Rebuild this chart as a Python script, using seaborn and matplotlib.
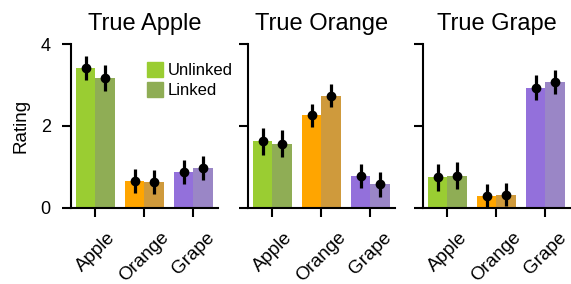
import pandas as pd
import seaborn as sns
import matplotlib.pyplot as plt
from matplotlib.patches import Patch

truths = ["Apple", "Orange", "Grape"]
fruits = ["Apple", "Orange", "Grape"]
links = ["Unlinked", "Linked"]

# mean rating per true fruit (rows) and rated fruit (columns)
unlinked = [[3.42, 0.66, 0.87], [1.63, 2.26, 0.78], [0.74, 0.29, 2.94]]
linked = [[3.18, 0.63, 0.97], [1.57, 2.74, 0.57], [0.78, 0.32, 3.08]]
unlinked_err = [[0.30, 0.29, 0.30], [0.33, 0.29, 0.30], [0.33, 0.28, 0.30]]
linked_err = [[0.32, 0.29, 0.30], [0.33, 0.28, 0.30], [0.33, 0.28, 0.30]]

colors_unlinked = ["#9acd32", "#ffa500", "#9370db"]
colors_linked = ["#8fad55", "#cf9a3c", "#9a86c6"]

rows = []
for i, t in enumerate(truths):
    for j, f in enumerate(fruits):
        rows.append([t, f, "Unlinked", unlinked[i][j], unlinked_err[i][j]])
        rows.append([t, f, "Linked", linked[i][j], linked_err[i][j]])
df = pd.DataFrame(rows, columns=["truth", "fruit", "link", "rating", "err"])

sns.set_style("ticks")
plt.rcParams["font.family"] = ["Liberation Sans", "DejaVu Sans"]
for key in ["text.color", "axes.labelcolor", "xtick.color", "ytick.color", "axes.edgecolor"]:
    plt.rcParams[key] = "black"

fig = plt.figure(figsize=(5.71, 2.84), dpi=100)
lefts = [0.1243, 0.4343, 0.7408]

for i, t in enumerate(truths):
    ax = fig.add_axes([lefts[i], 0.2687, 0.2574, 0.5754])
    sub = df[df.truth == t]
    sns.barplot(data=sub, x="fruit", y="rating", hue="link", order=fruits,
                hue_order=links, errorbar=None, width=0.8, linewidth=0,
                legend=False, ax=ax)
    cols = [colors_unlinked, colors_linked]
    bar_conts = list(ax.containers)
    for k, cont in enumerate(bar_conts):
        errs = sub[sub.link == links[k]].set_index("fruit").loc[fruits, "err"]
        for j, bar in enumerate(cont):
            bar.set_facecolor(cols[k][j])
            x = bar.get_x() + bar.get_width() / 2
            ax.errorbar(x, bar.get_height(), yerr=errs.iloc[j], fmt="o",
                        color="black", ms=6, elinewidth=2.3, capsize=0)

    ax.set_ylim(0, 4)
    ax.set_xlim(-0.5, 2.5)
    ax.set_yticks([0, 2, 4])
    ax.set_title(f"True {t}", fontsize=17, pad=10)
    ax.set_xlabel("")
    sns.despine(ax=ax)
    for s in ["left", "bottom"]:
        ax.spines[s].set_linewidth(1.5)
    ax.tick_params(width=1.5, length=6.5, labelsize=13)
    ax.tick_params(axis="x", pad=9, labelsize=13.5)
    ax.tick_params(axis="y", pad=8)
    plt.setp(ax.get_xticklabels(), rotation=45)
    if i == 0:
        ax.set_ylabel("Rating", fontsize=13.5, labelpad=8)
        handles = [Patch(color=colors_unlinked[0]), Patch(color=colors_linked[0])]
        ax.legend(handles, links, frameon=False, loc="upper left",
                  bbox_to_anchor=(0.47, 0.93), borderaxespad=0,
                  handlelength=0.95, handleheight=0.95, handletextpad=0.3,
                  labelspacing=0.25, fontsize=12)
    else:
        ax.set_ylabel("")
        ax.set_yticklabels([])

fig.savefig("out.png", dpi=100)
